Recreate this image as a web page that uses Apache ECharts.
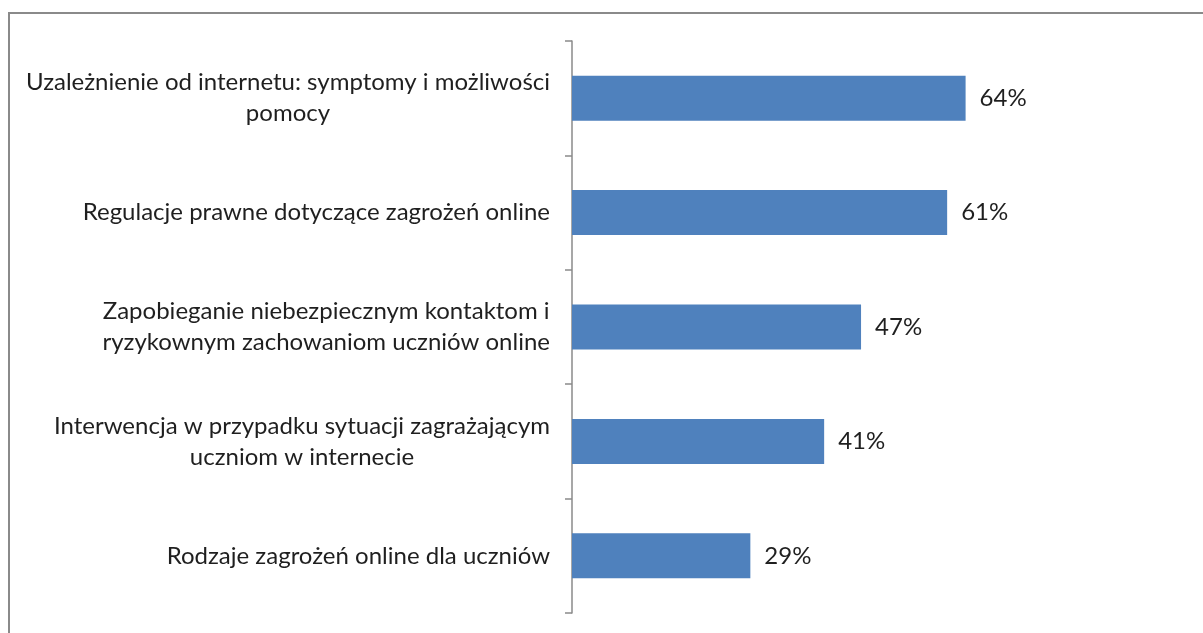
<!DOCTYPE html>
<html>
<head>
<meta charset="utf-8">
<script src="https://cdn.jsdelivr.net/npm/echarts@6/dist/echarts.min.js"></script>
<style>
  html, body { margin: 0; padding: 0; background: #fff; }
  #chart { width: 1203px; height: 633px; }
  .frame {
    position: absolute; left: 8px; top: 12px; width: 1300px; height: 700px;
    border-left: 2px solid #8a8a8a; border-top: 2px solid #8a8a8a;
    pointer-events: none;
  }
</style>
</head>
<body>
<div class="frame"></div>
<div id="chart"></div>
<script>
const categories = [
  'Uzależnienie od internetu: symptomy i możliwości\npomocy',
  'Regulacje prawne dotyczące zagrożeń online',
  'Zapobieganie niebezpiecznym kontaktom i\nryzykownym zachowaniom uczniów online',
  'Interwencja w przypadku sytuacji zagrażającym\nuczniom w internecie',
  'Rodzaje zagrożeń online dla uczniów'
];
const values = [64, 61, 47, 41, 29];

const textColor = '#1f1f1f';
const font = 'Lato';
const fs = 24;

const chart = echarts.init(document.getElementById('chart'));
chart.setOption({
  animation: false,
  grid: { left: 572, right: 16, top: 41, bottom: 20 },
  xAxis: {
    type: 'value',
    min: 0,
    max: 100,
    show: false
  },
  yAxis: {
    type: 'category',
    data: categories,
    inverse: true,
    axisLine: { show: true, lineStyle: { color: '#8a8a8a', width: 1.5 } },
    axisTick: { show: true, length: 7, lineStyle: { color: '#8a8a8a', width: 1.5 } },
    axisLabel: {
      margin: 22,
      color: textColor,
      fontFamily: font,
      fontSize: fs,
      lineHeight: 31,
      formatter: function (v) {
        return v.split('\n').map(function (s) { return '{c|' + s + '}'; }).join('\n');
      },
      rich: {
        c: { align: 'center', color: textColor, fontFamily: font, fontSize: fs, lineHeight: 31 }
      }
    }
  },
  series: [{
    type: 'bar',
    data: values,
    barWidth: 45,
    itemStyle: { color: '#4f81bd' },
    label: {
      show: true,
      position: 'right',
      distance: 14,
      formatter: '{c}%',
      color: textColor,
      fontFamily: font,
      fontSize: fs
    }
  }]
});
</script>
</body>
</html>
